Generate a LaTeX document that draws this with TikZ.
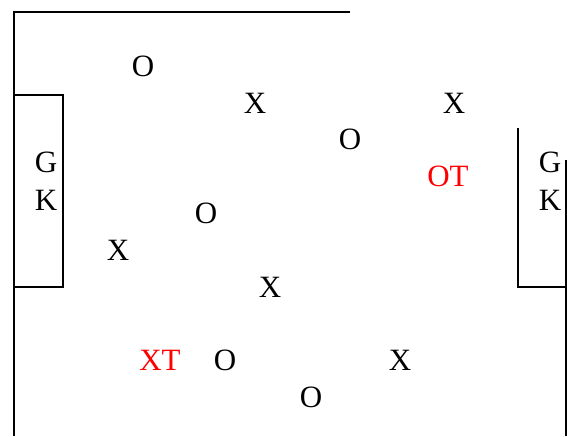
\documentclass[tikz,border=0pt]{standalone}
\usepackage{fontspec}
\setmainfont{Liberation Serif}
\usepackage{tikz}

\begin{document}
\begin{tikzpicture}[x=1pt, y=-1pt,
        lbl/.style ={font=\fontsize{31}{37}\selectfont, inner sep=0pt},
        tgt/.style ={lbl, text=red},
        fld/.style ={line width=1.3pt}]
    \useasboundingbox (0,0) rectangle (567,436);

    %--- Field lines ---
    \draw[fld] (350,12) -- (14,12) -- (14,436);
    \draw[fld] (14,95) rectangle (63,287);
    \draw[fld] (518,128) -- (518,287) -- (567,287);
    \draw[fld] (566,160) -- (566,436);

    %--- Keepers ---
    \node[lbl] (gL) at (46,162) {G};
    \node[lbl] (kL) at (46,200) {K};
    \node[lbl] (gR) at (550,162) {G};
    \node[lbl] (kR) at (550,200) {K};

    %--- Players ---
    \node[lbl] (o1) at (143,66)  {O};
    \node[lbl] (x1) at (255,103) {X};
    \node[lbl] (x2) at (454,103) {X};
    \node[lbl] (o2) at (350,139) {O};
    \node[tgt] (ot) at (448,176) {OT};
    \node[lbl] (o3) at (206,213) {O};
    \node[lbl] (x3) at (118,250) {X};
    \node[lbl] (x4) at (270,287) {X};
    \node[tgt] (xt) at (160,360) {XT};
    \node[lbl] (o4) at (225,360) {O};
    \node[lbl] (x5) at (400,360) {X};
    \node[lbl] (o5) at (311,397) {O};

\end{tikzpicture}
\end{document}
